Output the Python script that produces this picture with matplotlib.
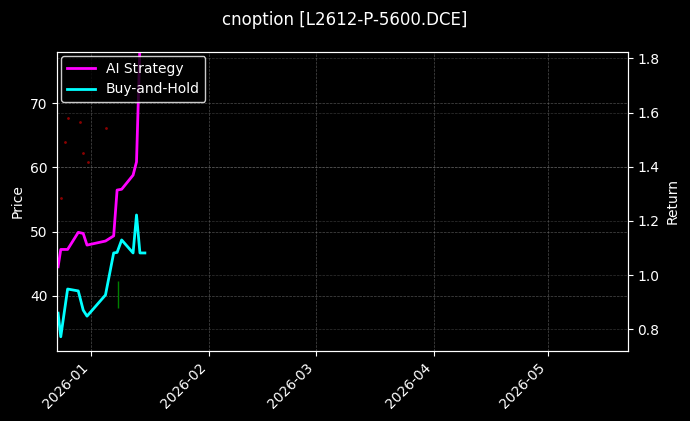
import matplotlib
matplotlib.use("Agg")
import matplotlib.pyplot as plt
import matplotlib.dates as mdates
import pandas as pd

plt.style.use("dark_background")

ref = pd.Timestamp("2026-01-01")
day_offsets = [-8.7, -8.0, -6.2, -3.4, -2.1, -1.1, 3.75, 5.9, 6.8, 8.0, 11.0, 11.9, 12.8, 14.1]
bh = [0.860, 0.773, 0.949, 0.942, 0.871, 0.849, 0.927, 1.082, 1.084, 1.130, 1.082, 1.222, 1.082, 1.082]
ai = [1.031, 1.095, 1.095, 1.158, 1.154, 1.111, 1.126, 1.145, 1.314, 1.317, 1.369, 1.418, 1.85, 1.95]
dates = [ref + pd.Timedelta(days=d) for d in day_offsets]

red_off = [-6.1, -3.0, 4.0, -6.9, -2.1, -0.8, -8.0]
red_price = [67.7, 67.1, 66.2, 64.0, 62.2, 60.8, 55.2]
red_dates = [ref + pd.Timedelta(days=d) for d in red_off]
green_date = ref + pd.Timedelta(days=7.1)
green_lo, green_hi = 38.1, 42.3

fig, ax = plt.subplots(figsize=(6.9, 4.21), dpi=100)
fig.patch.set_facecolor("black")
ax.set_facecolor("black")
ax.scatter(red_dates, red_price, s=1.0, color="#8b0000", zorder=2)
ax.vlines([green_date], green_lo, green_hi, color="green", lw=1)
ax.set_ylim(31.4, 78)
ax.set_ylabel("Price")
ax.grid(True, ls="--", lw=0.5, color="gray", alpha=0.6)

ax2 = ax.twinx()
ax2.plot(dates, ai, color="#ff00ff", lw=2, label="AI Strategy")
ax2.plot(dates, bh, color="#00ffff", lw=2, label="Buy-and-Hold")
ax2.set_ylim(0.72, 1.824)
ax2.set_ylabel("Return")
ax2.grid(True, ls="--", lw=0.5, color="gray", alpha=0.4)
ax2.legend(loc="upper left", facecolor="black", edgecolor="white", borderaxespad=0.3)

ax.set_xlim(pd.Timestamp("2025-12-23 02:00"), pd.Timestamp("2026-05-22"))
ax.xaxis.set_major_locator(mdates.MonthLocator())
ax.xaxis.set_major_formatter(mdates.DateFormatter("%Y-%m"))
plt.setp(ax.get_xticklabels(), rotation=45, ha="right")
fig.suptitle("cnoption [L2612-P-5600.DCE]", y=0.975)
fig.subplots_adjust(left=0.083, right=0.91, top=0.877, bottom=0.166)
fig.savefig("out.png", dpi=100, facecolor="black")
